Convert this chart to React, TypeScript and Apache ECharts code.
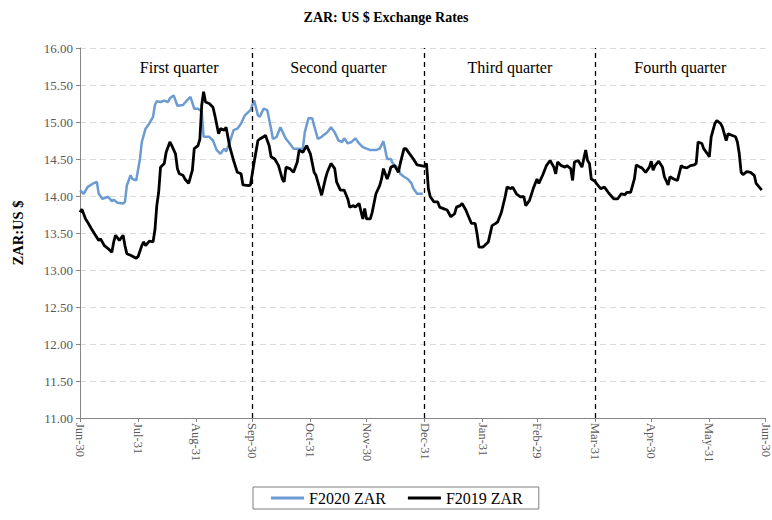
import React, { useEffect, useRef } from "react";
import * as echarts from "echarts";

const TOTAL_DAYS = 367;
const tickDays = [0, 31, 62, 92, 123, 153, 184, 215, 244, 275, 305, 336, 366];
const tickLabels = ["Jun-30", "Jul-31", "Aug-31", "Sep-30", "Oct-31", "Nov-30", "Dec-31", "Jan-31", "Feb-29", "Mar-31", "Apr-30", "May-31", "Jun-30"];
const quarterBounds = [0, 92, 184, 275, 366];
const quarterNames = ["First quarter", "Second quarter", "Third quarter", "Fourth quarter"];

const f2020Days = [0, 2, 4, 7, 9, 10, 12, 15, 17, 18, 20, 23, 24, 25, 27, 28, 30, 32, 33, 35, 37, 39, 40, 41, 43, 45, 47, 48, 50, 52, 55, 57, 59, 61, 63, 65, 66, 69, 71, 73, 75, 77, 78, 80, 82, 84, 86, 88, 91, 93, 95, 96, 98, 100, 102, 103, 105, 107, 109, 110, 112, 114, 117, 119, 120, 122, 124, 125, 127, 129, 131, 132, 134, 136, 138, 140, 141, 143, 145, 147, 149, 151, 153, 155, 156, 158, 160, 162, 163, 164, 166, 167, 170, 171, 173, 175, 177, 178, 180, 183];
const f2020Values = [14.08, 14.03, 14.12, 14.17, 14.19, 14.03, 13.96, 13.99, 13.93, 13.95, 13.91, 13.9, 13.92, 14.14, 14.28, 14.23, 14.21, 14.5, 14.73, 14.91, 14.98, 15.07, 15.23, 15.28, 15.27, 15.29, 15.27, 15.32, 15.36, 15.22, 15.23, 15.29, 15.34, 15.18, 15.18, 15.14, 14.8, 14.8, 14.75, 14.62, 14.57, 14.64, 14.6, 14.73, 14.89, 14.91, 14.98, 15.09, 15.16, 15.29, 15.09, 15.07, 15.18, 15.16, 14.91, 14.77, 14.8, 14.93, 14.82, 14.77, 14.71, 14.64, 14.64, 14.64, 14.86, 15.05, 15.05, 14.95, 14.77, 14.8, 14.84, 14.86, 14.93, 14.86, 14.75, 14.73, 14.78, 14.71, 14.73, 14.78, 14.71, 14.66, 14.64, 14.62, 14.62, 14.62, 14.64, 14.74, 14.62, 14.5, 14.5, 14.44, 14.37, 14.3, 14.26, 14.23, 14.17, 14.1, 14.03, 14.03];

const f2019Days = [0, 1, 3, 4, 6, 8, 10, 11, 13, 15, 17, 18, 19, 21, 23, 24, 25, 27, 30, 31, 33, 34, 35, 37, 39, 40, 41, 42, 43, 45, 46, 48, 49, 51, 52, 53, 55, 56, 58, 60, 61, 63, 64, 65, 66, 67, 69, 71, 72, 74, 75, 77, 78, 80, 82, 84, 86, 87, 90, 91, 93, 95, 96, 98, 99, 101, 102, 104, 106, 108, 109, 110, 112, 114, 116, 117, 119, 121, 123, 125, 126, 128, 129, 131, 132, 134, 136, 137, 139, 141, 143, 144, 146, 147, 149, 151, 152, 153, 155, 156, 158, 160, 161, 162, 164, 165, 166, 168, 170, 171, 173, 174, 176, 178, 180, 182, 184, 185, 186, 187, 189, 191, 192, 194, 196, 198, 200, 201, 203, 204, 206, 208, 209, 211, 212, 213, 215, 216, 218, 220, 222, 223, 225, 227, 228, 230, 231, 233, 235, 237, 238, 240, 242, 244, 245, 247, 249, 251, 253, 254, 255, 257, 259, 260, 262, 263, 264, 266, 268, 270, 271, 272, 273, 275, 276, 278, 280, 282, 284, 285, 287, 289, 291, 292, 294, 296, 297, 299, 300, 302, 304, 305, 306, 307, 309, 311, 312, 314, 315, 317, 319, 321, 322, 324, 326, 328, 329, 330, 332, 333, 335, 336, 337, 339, 340, 342, 343, 345, 346, 348, 350, 351, 352, 353, 354, 356, 358, 360, 361, 364];
const f2019Values = [13.78, 13.82, 13.69, 13.65, 13.56, 13.48, 13.4, 13.42, 13.33, 13.29, 13.24, 13.38, 13.47, 13.4, 13.47, 13.33, 13.22, 13.2, 13.16, 13.18, 13.33, 13.38, 13.33, 13.39, 13.38, 13.54, 13.87, 14.05, 14.39, 14.44, 14.59, 14.73, 14.68, 14.57, 14.37, 14.3, 14.28, 14.23, 14.17, 14.35, 14.64, 14.68, 14.77, 15.23, 15.41, 15.27, 15.25, 15.2, 15.09, 14.84, 14.91, 14.89, 14.93, 14.66, 14.48, 14.32, 14.3, 14.15, 14.14, 14.15, 14.46, 14.75, 14.77, 14.8, 14.82, 14.68, 14.53, 14.5, 14.41, 14.23, 14.19, 14.39, 14.37, 14.32, 14.46, 14.62, 14.59, 14.68, 14.57, 14.32, 14.28, 14.1, 14.01, 14.23, 14.32, 14.44, 14.37, 14.19, 14.08, 14.08, 13.96, 13.85, 13.87, 13.85, 13.9, 13.69, 13.83, 13.69, 13.69, 13.78, 14.03, 14.14, 14.23, 14.37, 14.23, 14.3, 14.39, 14.41, 14.32, 14.44, 14.64, 14.64, 14.57, 14.5, 14.42, 14.41, 14.4, 14.44, 14.1, 13.99, 13.92, 13.92, 13.85, 13.83, 13.81, 13.72, 13.76, 13.85, 13.87, 13.9, 13.81, 13.69, 13.63, 13.63, 13.49, 13.31, 13.31, 13.33, 13.38, 13.6, 13.63, 13.65, 13.78, 13.99, 14.12, 14.1, 14.12, 14.03, 13.99, 13.99, 13.87, 13.94, 14.1, 14.23, 14.17, 14.28, 14.41, 14.48, 14.39, 14.3, 14.46, 14.41, 14.39, 14.41, 14.37, 14.21, 14.46, 14.48, 14.39, 14.62, 14.48, 14.44, 14.23, 14.2, 14.16, 14.1, 14.12, 14.05, 13.99, 13.96, 13.96, 14.03, 14.02, 14.05, 14.05, 14.23, 14.42, 14.39, 14.38, 14.32, 14.39, 14.47, 14.35, 14.41, 14.47, 14.39, 14.26, 14.15, 14.26, 14.23, 14.21, 14.41, 14.39, 14.38, 14.41, 14.42, 14.44, 14.73, 14.71, 14.64, 14.57, 14.53, 14.8, 14.98, 15.02, 14.98, 14.93, 14.75, 14.84, 14.82, 14.8, 14.73, 14.57, 14.32, 14.29, 14.33, 14.32, 14.28, 14.17, 14.08];

const FONT = "Liberation Serif";

export default function App() {
  const ref = useRef<HTMLDivElement>(null);
  useEffect(() => {
    if (!ref.current) return;
    const chart = echarts.init(ref.current, null, { renderer: "svg" });
    const categories = Array.from({ length: TOTAL_DAYS }, (_, i) => String(i));
    const labelFor = (idx: number) => {
      const k = tickDays.indexOf(idx);
      return k >= 0 ? tickLabels[k] : "";
    };
    const isTick = (idx: number) => tickDays.indexOf(idx) >= 0;
    chart.setOption({
      animation: false,
      backgroundColor: "#ffffff",
      title: {
        text: "ZAR: US $ Exchange Rates",
        left: "center",
        top: 5,
        textStyle: { fontFamily: FONT, fontSize: 14, fontWeight: "bold", color: "#000" },
      },
      legend: {
        data: [
          { name: "F2020 ZAR", icon: "rect" },
          { name: "F2019 ZAR", icon: "rect" },
        ],
        left: 253,
        top: 487,
        padding: [3, 16, 3, 18],
        itemWidth: 33,
        itemHeight: 3,
        itemGap: 22,
        borderColor: "#7f7f7f",
        borderWidth: 1,
        textStyle: { fontFamily: FONT, fontSize: 16, color: "#000", padding: [0, 0, 0, 0] },
      },
      grid: { left: 80, right: 5, top: 48, bottom: 102 },
      xAxis: {
        type: "category",
        data: categories,
        boundaryGap: false,
        axisLine: { lineStyle: { color: "#868686", width: 1 } },
        axisTick: { show: true, interval: (idx: number) => isTick(idx), length: 4, lineStyle: { color: "#868686" } },
        axisLabel: {
          interval: (idx: number) => isTick(idx),
          formatter: (_v: string, idx: number) => labelFor(idx),
          rotate: -90,
          fontFamily: FONT,
          fontSize: 12.5,
          color: "#595959",
          margin: 5,
        },
        splitLine: { show: false },
      },
      yAxis: {
        type: "value",
        min: 11,
        max: 16,
        interval: 0.5,
        name: "ZAR:US $",
        nameLocation: "middle",
        nameGap: 55,
        nameTextStyle: { fontFamily: FONT, fontSize: 14.5, fontWeight: "bold", color: "#000" },
        axisLine: { show: true, lineStyle: { color: "#868686", width: 1 } },
        axisTick: { show: true, length: 4, lineStyle: { color: "#868686" } },
        axisLabel: {
          formatter: (v: number) => v.toFixed(2),
          fontFamily: FONT,
          fontSize: 13,
          color: "#595959",
          margin: 7,
        },
        splitLine: { show: true, lineStyle: { color: "#d9d9d9", type: [6, 4], width: 1 } },
      },
      series: [
        {
          name: "F2020 ZAR",
          type: "line",
          data: f2020Days.map((d, i) => [d, f2020Values[i]]),
          symbol: "none",
          lineStyle: { color: "#6b9bd1", width: 2.5 },
          itemStyle: { color: "#6b9bd1" },
          z: 2,
        },
        {
          name: "F2019 ZAR",
          type: "line",
          data: f2019Days.map((d, i) => [d, f2019Values[i]]),
          symbol: "none",
          lineStyle: { color: "#000000", width: 2.8 },
          itemStyle: { color: "#000000" },
          z: 3,
          markLine: {
            symbol: "none",
            silent: true,
            label: { show: false },
            lineStyle: { color: "#000", type: [5, 4], width: 1.3 },
            data: quarterBounds.slice(1, 4).map((d) => ({ xAxis: d })),
          },
          markArea: {
            silent: true,
            itemStyle: { color: "rgba(0,0,0,0)" },
            label: {
              show: true,
              position: "insideTop",
              distance: 11,
              fontFamily: FONT,
              fontSize: 16,
              color: "#000",
            },
            data: quarterNames.map((n, i) => [
              { name: n, xAxis: quarterBounds[i], yAxis: 16, label: i === 0 ? { offset: [13, 0] } : undefined },
              { xAxis: quarterBounds[i + 1], yAxis: 11 },
            ]),
          },
        },
      ],
    });
    return () => chart.dispose();
  }, []);
  return <div ref={ref} style={{ position: "absolute", left: 0, top: 0, width: 772, height: 520 }} />;
}
